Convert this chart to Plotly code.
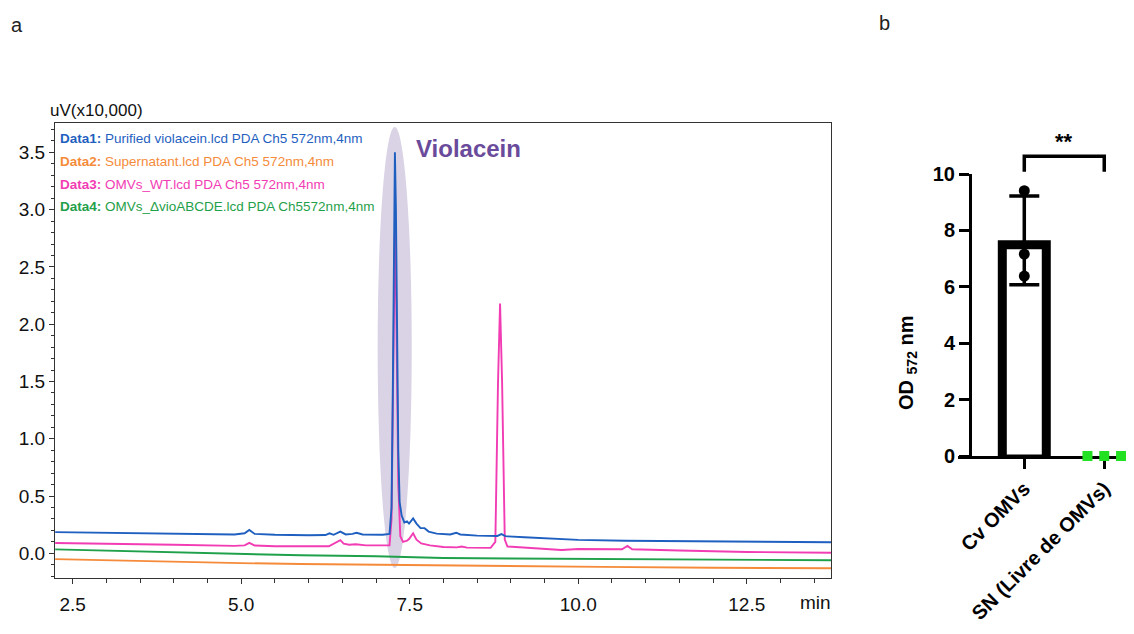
import plotly.graph_objects as go

# page body has an 8px margin, so the figure is sized to fill the rest of the window
OFF = 8
W, H = 1134 - OFF, 634 - OFF


def px(x):
    return (x - OFF) / W


def py(y):
    return 1 - (y - OFF) / H


# ---------------- Panel a: chromatogram data (min, uV x10,000) ----------------
t_data1 = [2.24, 3.0, 4.0, 4.9, 5.05, 5.12, 5.2, 5.5, 6.0, 6.25, 6.31, 6.37, 6.47, 6.55, 6.65, 6.71, 6.8,
           7.1, 7.2, 7.23, 7.25, 7.265, 7.28, 7.295, 7.31, 7.33, 7.35, 7.38, 7.42, 7.46, 7.49, 7.55, 7.6,
           7.66, 7.72, 7.78, 7.9, 8.1, 8.19, 8.25, 8.5, 8.8, 8.86, 8.92, 9.2, 9.6, 10.0, 10.7, 11.5, 12.5, 13.75]
v_data1 = [0.185, 0.18, 0.172, 0.165, 0.175, 0.205, 0.17, 0.162, 0.158, 0.16, 0.175, 0.162, 0.19, 0.165, 0.17, 0.18, 0.165,
           0.162, 0.17, 0.4, 1.5, 2.8, 3.5, 3.0, 2.0, 0.9, 0.45, 0.33, 0.27, 0.28, 0.26, 0.305, 0.26,
           0.22, 0.22, 0.19, 0.172, 0.165, 0.18, 0.165, 0.155, 0.152, 0.168, 0.15, 0.14, 0.128, 0.118, 0.11, 0.105, 0.1, 0.097]

t_data2 = [2.24, 3.0, 4.0, 5.0, 5.88, 7.0, 8.0, 9.0, 10.35, 12.0, 13.75]
v_data2 = [-0.05, -0.06, -0.075, -0.085, -0.093, -0.1, -0.107, -0.112, -0.118, -0.125, -0.13]

t_data3 = [2.24, 3.0, 4.0, 4.9, 5.05, 5.12, 5.2, 5.5, 6.0, 6.3, 6.47, 6.52, 6.6, 6.7, 6.85, 7.1, 7.2,
           7.23, 7.25, 7.265, 7.28, 7.295, 7.31, 7.33, 7.36, 7.4, 7.46, 7.49, 7.55, 7.6, 7.67, 7.8, 8.0,
           8.2, 8.27, 8.35, 8.7, 8.77, 8.81, 8.84, 8.87, 8.91, 8.95, 9.3, 9.75, 10.0, 10.65, 10.73, 10.8,
           11.5, 12.5, 13.75]
v_data3 = [0.09, 0.085, 0.075, 0.065, 0.07, 0.092, 0.068, 0.062, 0.06, 0.062, 0.115, 0.085, 0.075, 0.08, 0.07, 0.068, 0.07,
           0.3, 1.2, 2.3, 2.8, 2.4, 1.6, 0.6, 0.15, 0.1, 0.11, 0.125, 0.175, 0.12, 0.087, 0.07, 0.055,
           0.052, 0.06, 0.05, 0.048, 0.1, 1.5, 2.18, 1.5, 0.12, 0.06, 0.044, 0.03, 0.038, 0.036, 0.065, 0.036,
           0.025, 0.012, 0.005]

t_data4 = [2.24, 3.0, 4.0, 5.0, 5.88, 7.0, 8.0, 9.0, 10.35, 12.0, 13.75]
v_data4 = [0.035, 0.025, 0.01, -0.005, -0.017, -0.025, -0.04, -0.045, -0.05, -0.055, -0.06]

legend_names = ["Purified violacein.lcd PDA Ch5 572nm,4nm",
                "Supernatant.lcd PDA Ch5 572nm,4nm",
                "OMVs_WT.lcd PDA Ch5 572nm,4nm",
                "OMVs_\u0394vioABCDE.lcd PDA Ch5572nm,4nm"]
legend_tags = ["Data1:", "Data2:", "Data3:", "Data4:"]
colors = ["#1F5FBF", "#F58B3A", "#F23CB4", "#1FA04A"]

x_ticks_a = [2.5, 5.0, 7.5, 10.0, 12.5]
y_ticks_a = [0.0, 0.5, 1.0, 1.5, 2.0, 2.5, 3.0, 3.5]

# ---------------- Panel b: OD572 data ----------------
categories_b = ["Cv OMVs", "SN (Livre de OMVs)"]
cv_points = [9.41, 7.16, 6.38]
sn_points = [0.0, 0.0, 0.0]
sn_offsets = [-0.21, 0.0, 0.21]
y_ticks_b = [0, 2, 4, 6, 8, 10]
cv_mean = sum(cv_points) / len(cv_points)
cv_sd = (sum((p - cv_mean) ** 2 for p in cv_points) / (len(cv_points) - 1)) ** 0.5

SANS = "Liberation Sans, Arial, sans-serif"

# panel b geometry (pixels of the reference)
y2_top_px, y2_bot_px = 174, 456
y2_range = [0, 10]
unit_px = (y2_bot_px - y2_top_px) / (y2_range[1] - y2_range[0])   # px per OD unit
border_px = 9                                                      # bar outline drawn inside the bar
axis_half_px = 1.5                                                 # keep the x axis line visible in the bar
cat_px = 80                                                        # px between categories
bar_outer_w = 53 / cat_px
bar_inner_w = (53 - 2 * border_px) / cat_px

fig = go.Figure()

# draw order: orange, green, pink, blue
for t, v, c in [(t_data2, v_data2, colors[1]), (t_data4, v_data4, colors[3]),
                (t_data3, v_data3, colors[2]), (t_data1, v_data1, colors[0])]:
    fig.add_trace(go.Scatter(x=t, y=v, mode="lines", line=dict(color=c, width=1.9),
                             xaxis="x", yaxis="y", showlegend=False, hoverinfo="skip"))

# panel b bar (outline drawn inside the bar, Prism style)
fig.add_trace(go.Bar(x=[0], y=[cv_mean], width=bar_outer_w, xaxis="x2", yaxis="y2",
                     marker=dict(color="black", line=dict(width=0)),
                     showlegend=False, hoverinfo="skip"))
inner_base = axis_half_px / unit_px
fig.add_trace(go.Bar(x=[0], y=[cv_mean - border_px / unit_px - inner_base], base=[inner_base],
                     width=bar_inner_w, xaxis="x2", yaxis="y2",
                     marker=dict(color="white", line=dict(width=0)),
                     showlegend=False, hoverinfo="skip"))
# mean +/- SD
fig.add_trace(go.Scatter(x=[0], y=[cv_mean], mode="markers", xaxis="x2", yaxis="y2",
                         marker=dict(color="black", size=1),
                         error_y=dict(type="data", array=[cv_sd], color="black", thickness=3.5, width=15),
                         showlegend=False, hoverinfo="skip"))
fig.add_trace(go.Scatter(x=[0] * len(cv_points), y=cv_points, mode="markers", xaxis="x2", yaxis="y2",
                         marker=dict(color="black", size=11, symbol="circle"), cliponaxis=False,
                         showlegend=False, hoverinfo="skip"))
fig.add_trace(go.Scatter(x=[1 + o for o in sn_offsets], y=sn_points, mode="markers", xaxis="x2", yaxis="y2",
                         marker=dict(color="#22E022", size=10, symbol="square"), cliponaxis=False,
                         showlegend=False, hoverinfo="skip"))

axis_a = dict(showline=True, linecolor="#333333", linewidth=1.2, mirror=True, ticks="outside",
              tickcolor="#333333", tickwidth=1, showgrid=False, zeroline=False,
              tickfont=dict(family=SANS, size=19, color="#111111"))

fig.update_layout(
    width=W, height=H, margin=dict(l=0, r=0, t=0, b=0),
    paper_bgcolor="white", plot_bgcolor="white", showlegend=False, barmode="overlay",
    font=dict(family=SANS, color="black"),
    xaxis=dict(domain=[px(55), px(831)], range=[2.237, 13.75], anchor="y",
               tickvals=x_ticks_a, ticktext=[f"{v:.1f}" for v in x_ticks_a], ticklen=5,
               ticklabelstandoff=4,
               minor=dict(ticks="outside", tick0=2.5, dtick=0.5, ticklen=4, tickcolor="#333333", showgrid=False),
               **axis_a),
    yaxis=dict(domain=[py(578), py(123)], range=[-0.215, 3.756], anchor="x",
               tickvals=y_ticks_a, ticktext=[f"{v:.1f}" for v in y_ticks_a], ticklen=5,
               minor=dict(ticks="outside", tick0=0, dtick=0.1, ticklen=3, tickcolor="#333333", showgrid=False),
               **axis_a),
    xaxis2=dict(domain=[px(958), 1.0], range=[-0.829, 1.372], anchor="y2", layer="below traces",
                showline=True, linecolor="black", linewidth=3, ticks="outside", ticklen=10, tickwidth=3,
                tickcolor="black", tickvals=[0, 1], ticktext=categories_b, tickangle=-45,
                tickfont=dict(family=SANS, size=20, color="black", weight="bold"),
                showgrid=False, zeroline=False, automargin=False),
    yaxis2=dict(domain=[py(y2_bot_px), py(y2_top_px)], range=y2_range, anchor="free", position=px(970),
                showline=True, linecolor="black", linewidth=3, ticks="outside", ticklen=10, tickwidth=3,
                tickcolor="black", tickvals=y_ticks_b,
                tickfont=dict(family=SANS, size=20, color="black", weight="bold"),
                showgrid=False, zeroline=False, automargin=False),
)

# highlight ellipse around violacein peak
fig.add_shape(type="circle", xref="x", yref="y", x0=7.024, x1=7.53, y0=-0.128, y1=3.72,
              fillcolor="#DAD3E6", line=dict(width=0), layer="below")

# significance bracket (panel b)
br_top, br_bot = 1.063, 1.008
fig.add_shape(type="path", xref="x2", yref="y2 domain",
              path=f"M 0,{br_bot} L 0,{br_top} L 1,{br_top} L 1,{br_bot}",
              line=dict(color="black", width=3.5))

ann = []
ann.append(dict(text="**", x=0.5, xref="x2", y=1.115, yref="y2 domain", showarrow=False,
                font=dict(family=SANS, size=22, color="black", weight="bold"), xanchor="center", yanchor="middle"))
ann.append(dict(text="OD <sub>572</sub> nm", x=px(907), y=py(363), xref="paper", yref="paper",
                showarrow=False, textangle=-90, font=dict(family=SANS, size=20, color="black", weight="bold"),
                xanchor="center", yanchor="middle"))
ann.append(dict(text="a", x=px(17), y=py(25), xref="paper", yref="paper", showarrow=False,
                font=dict(family=SANS, size=20, color="#222222"), xanchor="center", yanchor="middle"))
ann.append(dict(text="b", x=px(884), y=py(23), xref="paper", yref="paper", showarrow=False,
                font=dict(family=SANS, size=20, color="#222222"), xanchor="center", yanchor="middle"))
ann.append(dict(text="uV(x10,000)", x=px(48), y=py(110), xref="paper", yref="paper", showarrow=False,
                font=dict(family=SANS, size=17, color="#111111"), xanchor="left", yanchor="middle"))
ann.append(dict(text="min", x=px(815), y=py(602), xref="paper", yref="paper", showarrow=False,
                font=dict(family=SANS, size=19, color="#111111"), xanchor="center", yanchor="middle"))
ann.append(dict(text="Violacein", x=px(468), y=py(148), xref="paper", yref="paper", showarrow=False,
                font=dict(family=SANS, size=24, color="#6A4B9B", weight="bold"), xanchor="center", yanchor="middle"))
legend_y = [138, 161.5, 184, 206.5]
for tag, name, c, yy in zip(legend_tags, legend_names, colors, legend_y):
    ann.append(dict(text=f"<b>{tag}</b> {name}", x=px(58), y=py(yy), xref="paper", yref="paper",
                    showarrow=False, font=dict(family=SANS, size=13.5, color=c),
                    xanchor="left", yanchor="middle"))
fig.update_layout(annotations=ann)

fig.write_html("out.html")
